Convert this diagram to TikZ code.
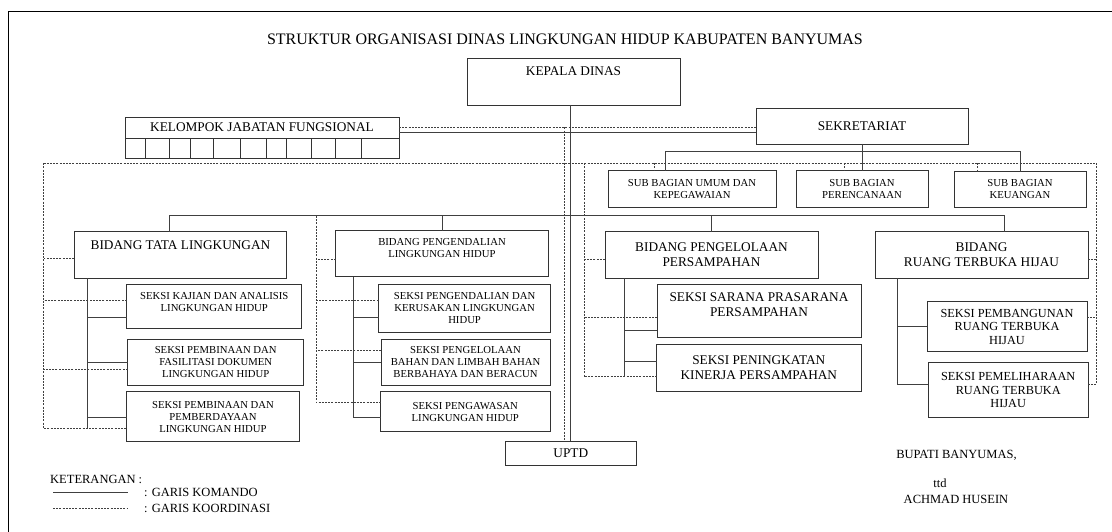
\documentclass[tikz,border=0pt]{standalone}
\usepackage{fontspec}
\setmainfont{Liberation Serif}
\usepackage{tikz}
\newcommand\fnttitle{\fontsize{16}{19}\selectfont}
\newcommand\fntbig{\fontsize{13.3}{15}\selectfont}
\newcommand\fntmid{\fontsize{12.3}{13.5}\selectfont}
\newcommand\fntsmall{\fontsize{10.7}{12}\selectfont}
\newcommand\fntnote{\fontsize{12.5}{14}\selectfont}

\begin{document}
\begin{tikzpicture}[x=1pt,y=-1pt,
    box/.style 2 args={draw=black!80,line width=.9pt,minimum width=#1pt,minimum height=#2pt,inner sep=0pt,outer sep=0pt,align=center},
    cell/.style={draw=black!80,line width=.9pt,minimum height=20pt,inner sep=0pt,outer sep=0pt},
    komando/.style={draw=black!75,line width=1pt},
    koord/.style={draw=black!75,line width=.8pt,dash pattern=on 2pt off 1.2pt},
    note/.style={font=\fntnote,inner sep=0pt}]
\useasboundingbox (0,0) rectangle (1112,532);
\draw[line width=1.6pt] (1112,11.7) -- (8.6,11.7) -- (8.6,532);

\node[font=\fnttitle,inner sep=0pt] (judul) at (565,39.5) {STRUKTUR ORGANISASI DINAS LINGKUNGAN HIDUP KABUPATEN BANYUMAS};

% pimpinan, fungsional, sekretariat
\node[box={213}{47},font=\fntbig] (kepala) at (573.5,81.5) {KEPALA DINAS\\[6pt]\mbox{}};
\node[box={274}{21},font=\fntbig] (kjf) at (262,127.5) {KELOMPOK JABATAN FUNGSIONAL};
\foreach \a/\b [count=\i] in {125/145,145/169,169/190,190/213.6,213.6/240,240/266.4,266.4/286.4,286.4/311.4,311.4/335.4,335.4/361,361/399}
    \node[cell,minimum width={(\b-\a)*1pt}] (kjf\i) at ({(\a+\b)/2},148) {};
\node[box={212}{36},font=\fntbig] (sek) at (862,126) {SEKRETARIAT};
\node[box={168}{36.6},font=\fntsmall] (umum) at (692,189) {SUB BAGIAN UMUM DAN\\KEPEGAWAIAN};
\node[box={132}{36.6},font=\fntsmall] (renc) at (862,189) {SUB BAGIAN\\PERENCANAAN};
\node[box={132}{35.6},font=\fntsmall] (keu) at (1020,189.5) {SUB BAGIAN\\KEUANGAN};

% bidang
\node[box={212.5}{46.6},font=\fntbig] (tata) at (180.5,255) {BIDANG TATA LINGKUNGAN\\[5pt]\mbox{}};
\node[box={212.5}{46},font=\fntsmall] (pengend) at (442,253.7) {BIDANG PENGENDALIAN\\LINGKUNGAN HIDUP\\\mbox{}};
\node[box={213}{46.6},font=\fntbig] (pengel) at (711.5,255) {BIDANG PENGELOLAAN\\PERSAMPAHAN};
\node[box={213}{46.3},font=\fntbig] (rth) at (981.5,254.9) {BIDANG\\RUANG TERBUKA HIJAU};

% seksi
\node[box={175}{44.3},font=\fntsmall] (kajian) at (214.3,306.2) {SEKSI KAJIAN DAN ANALISIS\\LINGKUNGAN HIDUP\\[-3pt]\mbox{}};
\node[box={175.7}{46},font=\fntsmall] (fasil) at (215.7,362) {SEKSI PEMBINAAN DAN\\FASILITASI DOKUMEN\\LINGKUNGAN HIDUP};
\node[box={172.5}{50},font=\fntsmall] (pemb) at (213,416.7) {SEKSI PEMBINAAN DAN\\PEMBERDAYAAN\\LINGKUNGAN HIDUP};
\node[box={172}{48.3},font=\fntsmall] (kerus) at (464.6,308.2) {SEKSI PENGENDALIAN DAN\\KERUSAKAN LINGKUNGAN\\HIDUP};
\node[box={169}{46},font=\fntsmall] (bahan) at (465.5,362) {SEKSI PENGELOLAAN\\BAHAN DAN LIMBAH BAHAN\\BERBAHAYA DAN BERACUN};
\node[box={169.3}{40},font=\fntsmall] (pengaw) at (465.3,411.7) {SEKSI PENGAWASAN\\LINGKUNGAN HIDUP};
\node[box={204}{53},font=\fntbig] (sarana) at (759,310.5) {SEKSI SARANA PRASARANA\\PERSAMPAHAN\\[-4pt]\mbox{}};
\node[box={204.4}{47.7},font=\fntbig] (ningkat) at (758.8,367.8) {SEKSI PENINGKATAN\\KINERJA PERSAMPAHAN};
\node[box={160}{50},font=\fntmid] (pbang) at (1007,326.7) {SEKSI PEMBANGUNAN\\RUANG TERBUKA\\HIJAU};
\node[box={160.4}{54.6},font=\fntmid] (pelih) at (1008.2,390) {SEKSI PEMELIHARAAN\\RUANG TERBUKA\\HIJAU};
\node[box={131.7}{24.5},font=\fntbig] (uptd) at (570.8,453.2) {UPTD};

% garis komando
\draw[komando] (kepala.south -| uptd.north) -- (uptd.north);
\draw[komando] ([yshift=-5pt]kjf.east) -- ([yshift=-5pt]kjf.east -| sek.west);
\coordinate (sb) at (665.6,152);
\draw[komando] (sb |- umum.north) -- (sb) -| (keu.north);
\draw[komando] (sek.south) -- (renc.north);
\coordinate (bl) at (169.6,216);
\coordinate (br) at (1004,216);
\draw[komando] (bl |- tata.north) -- (bl) -- (br) -- (br |- rth.north);
\draw[komando] (pengend.north |- bl) -- (pengend.north);
\draw[komando] (pengel.north |- bl) -- (pengel.north);
\coordinate (ts) at ([xshift=-93pt]tata.south);
\draw[komando] (ts) -- ([yshift=-11.6pt]pemb.west -| ts);
\foreach \n/\d in {kajian/-11.1,fasil/-0.7,pemb/-0.6}
    \draw[komando] ([yshift=\d pt]\n.west) -- ([yshift=\d pt]\n.west -| ts);
\coordinate (gs) at ([xshift=-89pt]pengend.south);
\draw[komando] (gs) |- ([yshift=-5.6pt]pengaw.west);
\foreach \n/\d in {kerus/-9.1,bahan/-0.3}
    \draw[komando] ([yshift=\d pt]\n.west) -- ([yshift=\d pt]\n.west -| gs);
\coordinate (pvs) at ([xshift=-87pt]pengel.south);
\draw[komando] (pvs) -- ([yshift=-8.9pt]ningkat.west -| pvs);
\foreach \n/\d in {sarana/-19.5,ningkat/6.1}
    \draw[komando] ([yshift=\d pt]\n.west) -- ([yshift=\d pt]\n.west -| pvs);
\coordinate (rs) at ([xshift=-84.5pt]rth.south);
\draw[komando] (rs) |- ([yshift=6pt]pelih.west);
\draw[komando] (pbang.west) -- (pbang.west -| rs);

% garis koordinasi
\draw[koord] (kjf.east) -- (kjf.east -| sek.west);
\draw[koord] ([xshift=-6pt]uptd.north |- kjf.east) -- ([xshift=-6pt]uptd.north);
\coordinate (kl) at (43.6,163.3);
\coordinate (kr) at (1096,163.3);
\coordinate (ps) at (584,163.3);
\coordinate (gl) at (316,216);
\draw[koord] (kl) -- (kr);
\foreach \n/\s in {umum/-37.5,renc/-18,keu/-43}
    \draw[koord] ([xshift=\s pt]\n.north |- kl) -- ([xshift=\s pt]\n.north);
\draw[koord] (kl) |- ([yshift=-11.6pt]pemb.west);
\foreach \n/\d in {tata/-3.3,kajian/5.5,fasil/-7}
    \draw[koord] ([yshift=\d pt]\n.west) -- ([yshift=\d pt]\n.west -| kl);
\draw[koord] (gl) |- ([yshift=9.4pt]pengaw.west);
\foreach \n/\d in {pengend/-5.6,kerus/7.5,bahan/11.3}
    \draw[koord] ([yshift=\d pt]\n.west) -- ([yshift=\d pt]\n.west -| gl);
\draw[koord] (ps) |- ([yshift=-8.9pt]ningkat.west);
\foreach \n/\d in {pengel/-4,sarana/-7.2}
    \draw[koord] ([yshift=\d pt]\n.west) -- ([yshift=\d pt]\n.west -| ps);
\draw[koord] (kr) |- ([yshift=6pt]pelih.east);
\foreach \n/\d in {rth/-4,pbang/9}
    \draw[koord] ([yshift=\d pt]\n.east) -- ([yshift=\d pt]\n.east -| kr);

% keterangan
\node[note,anchor=west] (ket) at (50,479) {KETERANGAN :};
\node[note,anchor=west] (lkom) at (144,492) {: GARIS KOMANDO};
\node[note,anchor=west] (lkoor) at (144,508) {: GARIS KOORDINASI};
\coordinate (lg) at (53,492);
\draw[komando] (lg) -- ([xshift=-16pt]lkom.west);
\draw[koord] (lg |- lkoor.west) -- ([xshift=-16pt]lkoor.west);

% pengesahan
\node[note] (bupati) at (956.5,455) {BUPATI BANYUMAS,};
\node[note] (ttd) at (940,483) {ttd};
\node[note] (nama) at (956,499) {ACHMAD HUSEIN};
\end{tikzpicture}
\end{document}
